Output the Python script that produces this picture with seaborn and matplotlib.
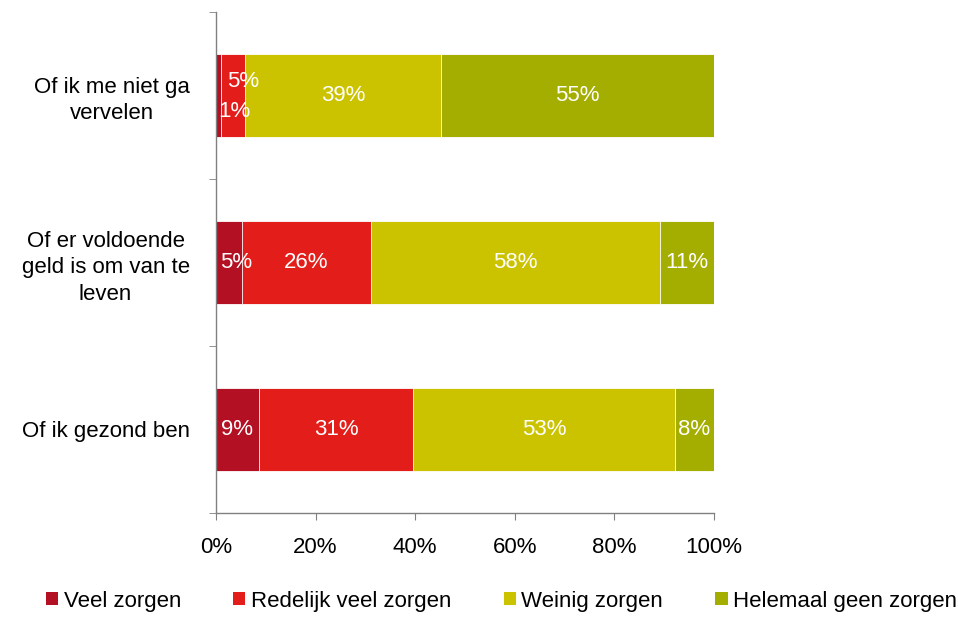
import matplotlib
matplotlib.use("Agg")
import matplotlib.pyplot as plt
import seaborn as sns
import pandas as pd
import numpy as np
from matplotlib.patches import Patch

categories = ["Of ik me niet ga\nvervelen",
              "Of er voldoende\ngeld is om van te\nleven",
              "Of ik gezond ben"]
series = ["Veel zorgen", "Redelijk veel zorgen", "Weinig zorgen", "Helemaal geen zorgen"]
veel = [1.0, 5.2, 8.6]
redelijk = [4.8, 26.0, 31.0]
weinig = [39.4, 58.0, 52.6]
geen = [54.8, 10.8, 7.8]
colors = ["#B31024", "#E31E1A", "#CCC300", "#A3AE00"]

sns.set_style("white")
plt.rcParams["font.family"] = ["Liberation Sans", "DejaVu Sans"]
plt.rcParams["text.color"] = "black"
plt.rcParams["xtick.color"] = "black"
plt.rcParams["ytick.color"] = "black"

FS = 16

values = np.array([veel, redelijk, weinig, geen])
cum = values.cumsum(axis=0)

fig = plt.figure(figsize=(9.58, 6.18), dpi=100)
ax = fig.add_axes([0.2255, 0.170, 0.5195, 0.811])

# draw cumulative totals from the back so segments stack
for i in range(len(series) - 1, -1, -1):
    df = pd.DataFrame({"cat": categories, "val": cum[i]})
    sns.barplot(data=df, x="val", y="cat", color=colors[i], width=0.5,
                edgecolor="white", linewidth=0.6, saturation=1, ax=ax)

# labels: small segments get nudged like in the original
offsets = {(0, 0): (3.1, 0.095), (0, 1): (2.0, -0.085), (1, 0): (1.4, 0.0)}
for i in range(len(series)):
    for j in range(len(categories)):
        left = cum[i][j] - values[i][j]
        xc = left + values[i][j] / 2
        dx, dy = offsets.get((j, i), (0.0, 0.0))
        ax.text(xc + dx, j + dy, f"{round(values[i][j]):.0f}%", color="white",
                ha="center", va="center", fontsize=FS)

ax.set_xlim(0, 100)
ax.set_ylim(2.5, -0.5)
ax.set_xlabel("")
ax.set_ylabel("")
ax.set_xticks(range(0, 101, 20))
ax.set_xticklabels([f"{v}%" for v in range(0, 101, 20)], fontsize=FS)
ax.set_yticks(range(len(categories)))
ax.set_yticklabels(categories, fontsize=FS, multialignment="center", linespacing=1.35)
ax.set_yticks([-0.5, 0.5, 1.5, 2.5], minor=True)
ax.tick_params(axis="y", which="major", length=0, pad=19)
ax.tick_params(axis="y", which="minor", length=5, direction="out", color="#808080", left=True)
ax.tick_params(axis="x", length=5, direction="out", color="#808080", bottom=True, pad=12)
for s in ["top", "right"]:
    ax.spines[s].set_visible(False)
for s in ["left", "bottom"]:
    ax.spines[s].set_color("#808080")
    ax.spines[s].set_linewidth(1)

handles = [Patch(facecolor=c, edgecolor="none") for c in colors]
fig.legend(handles, series, loc="lower center", bbox_to_anchor=(0.5235, -0.022), ncol=4,
           frameon=False, fontsize=FS, handlelength=0.55, handleheight=0.55,
           handletextpad=0.25, columnspacing=2.35)

fig.savefig("out.png", dpi=100)
